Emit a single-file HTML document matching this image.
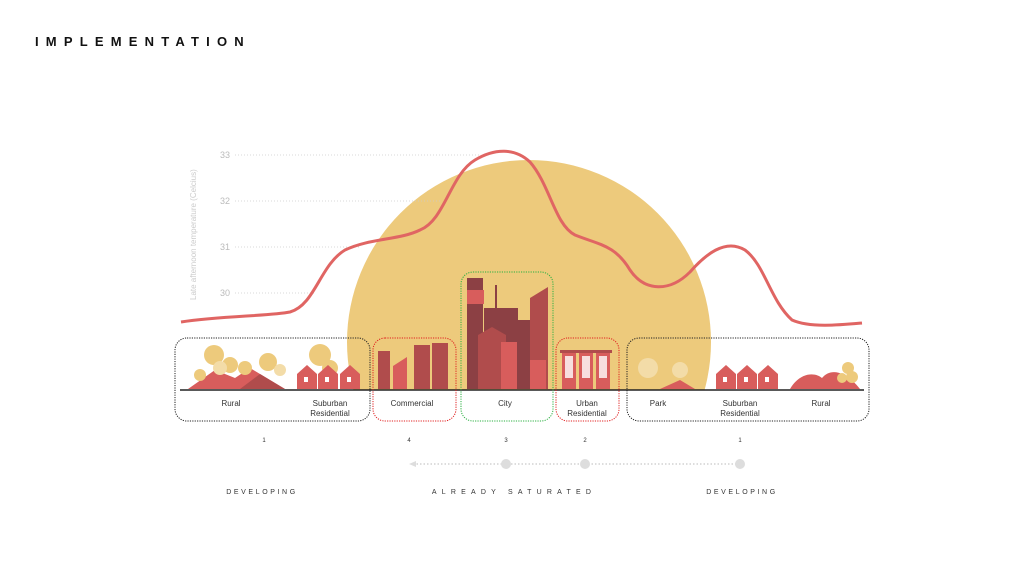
<!DOCTYPE html>
<html><head><style>
body{margin:0;width:1024px;height:576px;background:#fff;overflow:hidden;font-family:"Liberation Sans",sans-serif}
</style></head><body>
<svg width="1024" height="576" viewBox="0 0 1024 576" xmlns="http://www.w3.org/2000/svg" font-family="Liberation Sans, sans-serif">
<text x="35" y="46" font-size="13" font-weight="bold" letter-spacing="7.2" fill="#111">IMPLEMENTATION</text>
<defs><clipPath id="c"><rect x="0" y="0" width="1024" height="390"/></clipPath></defs>
<circle cx="529" cy="342" r="182" fill="#edca7c" clip-path="url(#c)"/>
<g stroke="#ccc" stroke-dasharray="1 2" stroke-width="0.8">
<line x1="235" y1="155" x2="480" y2="155"/><line x1="235" y1="201" x2="440" y2="201"/>
<line x1="235" y1="247" x2="360" y2="247"/><line x1="235" y1="293" x2="315" y2="293"/></g>
<g fill="#bbb" font-size="9"><text x="220" y="158">33</text><text x="220" y="204">32</text><text x="220" y="250">31</text><text x="220" y="296">30</text></g>
<text transform="translate(196,300) rotate(-90)" font-size="8" fill="#ccc">Late afternoon temperature (Celcius)</text>
<path d="M181,322 C220,316 270,316 290,312 C315,305 320,265 345,250 C370,238 400,240 420,230 C445,220 450,175 475,160 C495,148 515,148 530,162 C550,185 555,225 575,235 C600,245 615,245 630,270 C645,292 670,292 690,272 C705,255 725,238 745,250 C765,265 770,300 792,320 C810,328 840,325 862,323" fill="none" stroke="#e06563" stroke-width="3"/>
<line x1="180" y1="390" x2="864" y2="390" stroke="#222" stroke-width="1.5"/>
<path d="M188,389 L215,370 L235,378 L250,368 L285,389Z" fill="#d85d5c"/>
<path d="M240,389 L260,374 L285,389Z" fill="#b04c4c"/>
<g fill="#edca7c"><circle cx="214" cy="355" r="10"/><circle cx="230" cy="365" r="8"/><circle cx="268" cy="362" r="9"/><circle cx="245" cy="368" r="7"/><circle cx="200" cy="375" r="6"/></g>
<g fill="#f3dca8"><circle cx="220" cy="368" r="7"/><circle cx="280" cy="370" r="6"/></g>
<g fill="#edca7c"><circle cx="320" cy="355" r="11"/><circle cx="330" cy="368" r="8"/></g>
<g fill="#d85d5c"><path d="M297,389 V374 L307,365 L317,374 V389Z"/><path d="M318,389 V374 L328,365 L338,374 V389Z"/><path d="M340,389 V374 L350,365 L360,374 V389Z"/></g>
<g fill="#fff"><rect x="304" y="377" width="4" height="5"/><rect x="325" y="377" width="4" height="5"/><rect x="347" y="377" width="4" height="5"/></g>
<g fill="#b04c4c"><rect x="378" y="351" width="12" height="38"/><rect x="414" y="345" width="16" height="44"/><rect x="432" y="343" width="16" height="46"/></g>
<path d="M393,389 V366 L407,357 V389Z" fill="#d85d5c"/>
<g fill="#8c4044"><rect x="467" y="278" width="16" height="111"/><rect x="495" y="285" width="2" height="25"/><rect x="484" y="308" width="34" height="81"/><rect x="518" y="320" width="14" height="69"/></g>
<rect x="467" y="290" width="17" height="14" fill="#d85d5c"/>
<path d="M530,389 V298 L548,287 V389Z" fill="#b04c4c"/>
<path d="M478,389 V335 L492,327 L506,335 V389Z" fill="#b04c4c"/>
<rect x="501" y="342" width="16" height="47" fill="#d85d5c"/>
<rect x="530" y="360" width="16" height="29" fill="#d85d5c"/>
<rect x="560" y="350" width="52" height="3" fill="#b04c4c"/>
<g fill="#d85d5c"><rect x="562" y="353" width="14" height="36"/><rect x="579" y="353" width="14" height="36"/><rect x="596" y="353" width="14" height="36"/></g>
<g fill="#fff" opacity="0.8"><rect x="565" y="356" width="8" height="22"/><rect x="582" y="356" width="8" height="22"/><rect x="599" y="356" width="8" height="22"/></g>
<g fill="#f3dca8"><circle cx="648" cy="368" r="10"/><circle cx="680" cy="370" r="8"/></g>
<path d="M660,389 L680,380 L695,389Z" fill="#d85d5c"/>
<g fill="#d85d5c"><path d="M716,389 V374 L726,365 L736,374 V389Z"/><path d="M737,389 V374 L747,365 L757,374 V389Z"/><path d="M758,389 V374 L768,365 L778,374 V389Z"/></g>
<g fill="#fff"><rect x="723" y="377" width="4" height="5"/><rect x="744" y="377" width="4" height="5"/><rect x="765" y="377" width="4" height="5"/></g>
<path d="M790,389 C800,372 815,372 822,378 C830,368 845,370 860,389Z" fill="#d85d5c"/>
<g fill="#edca7c"><circle cx="848" cy="368" r="6"/><circle cx="852" cy="377" r="6"/><circle cx="842" cy="378" r="5"/></g>
<g fill="none" stroke-dasharray="1.2 1.2" stroke-width="1">
<rect x="175" y="338" width="195" height="83" rx="12" stroke="#222"/>
<rect x="373" y="338" width="83" height="83" rx="12" stroke="#e02020"/>
<rect x="461" y="272" width="92" height="149" rx="12" stroke="#2ab040"/>
<rect x="556" y="338" width="63" height="83" rx="12" stroke="#e02020"/>
<rect x="627" y="338" width="242" height="83" rx="12" stroke="#222"/>
</g>
<g font-size="8" fill="#333" text-anchor="middle">
<text x="231" y="406">Rural</text><text x="330" y="406">Suburban</text><text x="330" y="416">Residential</text>
<text x="412" y="406">Commercial</text><text x="505" y="406">City</text>
<text x="587" y="406">Urban</text><text x="587" y="416">Residential</text>
<text x="658" y="406">Park</text><text x="740" y="406">Suburban</text><text x="740" y="416">Residential</text><text x="821" y="406">Rural</text>
</g>
<g font-size="6" fill="#333" text-anchor="middle"><text x="264" y="442">1</text><text x="409" y="442">4</text><text x="506" y="442">3</text><text x="585" y="442">2</text><text x="740" y="442">1</text></g>
<line x1="413" y1="464" x2="740" y2="464" stroke="#ddd" stroke-width="2" stroke-dasharray="1.5 2"/>
<path d="M409,464 L416,461 L416,467Z" fill="#ddd"/>
<g fill="#ddd"><circle cx="506" cy="464" r="5"/><circle cx="585" cy="464" r="5"/><circle cx="740" cy="464" r="5"/></g>
<g font-size="7" fill="#333" text-anchor="middle">
<text x="262" y="494" letter-spacing="2.6">DEVELOPING</text><text x="514" y="494" letter-spacing="5.2">ALREADY SATURATED</text><text x="742" y="494" letter-spacing="2.6">DEVELOPING</text></g>
</svg>
</body></html>
